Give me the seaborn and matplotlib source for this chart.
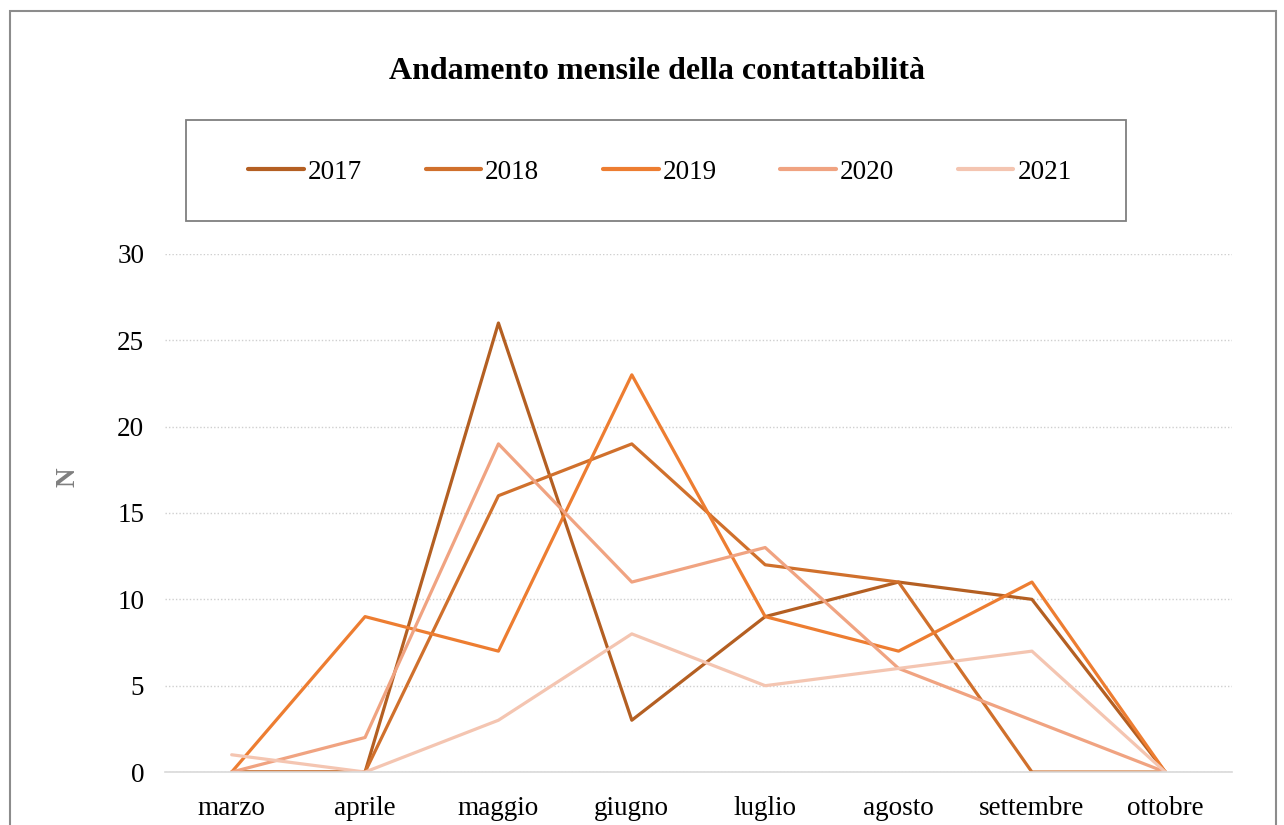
import pandas as pd
import matplotlib.pyplot as plt
import seaborn as sns
from matplotlib.patches import Rectangle

sns.set_theme(style="white")
plt.rcParams['font.family'] = ['Liberation Serif', 'DejaVu Serif']
plt.rcParams['text.color'] = 'black'

# data
months = ['marzo', 'aprile', 'maggio', 'giugno', 'luglio', 'agosto', 'settembre', 'ottobre']
years = ['2017', '2018', '2019', '2020', '2021']
v2017 = [0, 0, 26, 3, 9, 11, 10, 0]
v2018 = [0, 0, 16, 19, 12, 11, 0, 0]
v2019 = [0, 9, 7, 23, 9, 7, 11, 0]
v2020 = [0, 2, 19, 11, 13, 6, 3, 0]
v2021 = [1, 0, 3, 8, 5, 6, 7, 0]
colors = ['#B45F22', '#D0702C', '#ED7D31', '#F0A381', '#F4C5B1']

series = [v2017, v2018, v2019, v2020, v2021]
df = pd.DataFrame({
    'mese': months * len(years),
    'anno': [y for y in years for _ in months],
    'N': [v for s in series for v in s],
})

fig = plt.figure(figsize=(12.84, 8.25), dpi=100)
ax = fig.add_axes([0.1285, 0.0642, 0.831, 0.628])

sns.lineplot(data=df, x='mese', y='N', hue='anno', palette=colors,
             linewidth=2.3, sort=False, ax=ax, legend=False)

ax.set_xlim(-0.5, len(months) - 0.5)
ax.set_ylim(0, 30)
ax.set_yticks(range(0, 31, 5))
ax.set_xticks(range(len(months)))
ax.set_xticklabels(months)
ax.tick_params(axis='both', length=0, labelsize=19.5, colors='black')
ax.tick_params(axis='x', pad=17)
ax.tick_params(axis='y', pad=15)
ax.yaxis.grid(True, linestyle=(0, (1, 1.5)), color='#cfcfcf', linewidth=1)
ax.set_axisbelow(True)
for side in ['top', 'right', 'left']:
    ax.spines[side].set_visible(False)
ax.spines['bottom'].set_color('#d9d9d9')
ax.spines['bottom'].set_linewidth(1.2)
ax.set_xlabel('')
ax.set_ylabel('N', fontsize=19.5, fontweight='bold', color='#7f7f7f')
ax.yaxis.set_label_coords(-0.079, 0.57)

# title
fig.text(0.512, 0.913, 'Andamento mensile della contattabilità', ha='center', va='center',
         fontsize=23, fontweight='bold', color='black')

# legend
handles = [plt.Line2D([], [], color=c, linewidth=3) for c in colors]
fig.legend(handles, years, loc='center', bbox_to_anchor=(0.514, 0.791), ncol=5,
           frameon=False, fontsize=19.5, handlelength=2.05, handletextpad=0.15,
           columnspacing=2.35)
fig.patches.append(Rectangle((186 / 1284, 1 - 221 / 825), 940 / 1284, 101 / 825,
                             transform=fig.transFigure, fill=False,
                             edgecolor='#7f7f7f', linewidth=1.3))

# outer border
fig.patches.append(Rectangle((9.5 / 1284, -0.05), 1266 / 1284, 1.05 - 11 / 825,
                             transform=fig.transFigure, fill=False,
                             edgecolor='#8c8c8c', linewidth=1.5))

fig.savefig('out.png', dpi=100)
